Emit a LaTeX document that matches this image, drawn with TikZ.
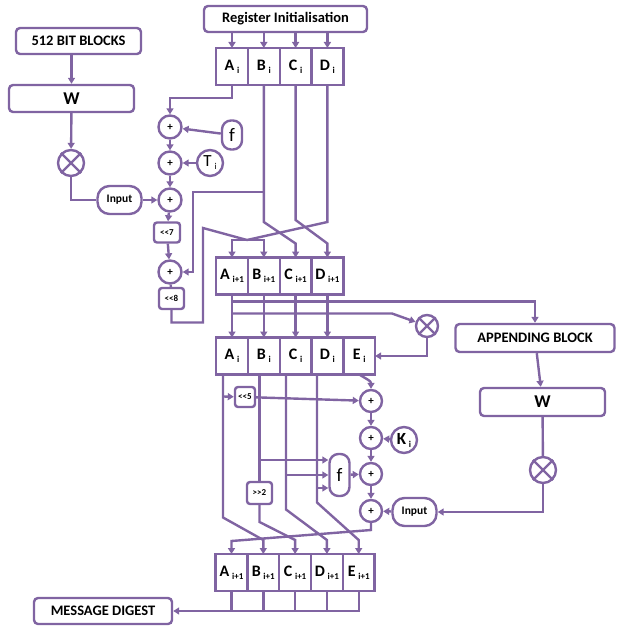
\documentclass[tikz,border=0pt]{standalone}
\usepackage{fontspec}
\setmainfont{Carlito}
\usepackage{tikz}
\usetikzlibrary{positioning,arrows.meta,calc}

\definecolor{vio}{RGB}{128,100,162}
\newcommand{\regl}[2]{#1\,{\fontsize{9}{9}\selectfont\raisebox{-3pt}{#2}}}

\begin{document}
\begin{tikzpicture}[
  x=1pt,y=-1pt,
  box/.style={draw=vio,line width=2.4pt,rounded corners=4pt,fill=white,align=center,
              inner sep=1pt,font=\fontsize{14.5}{14.5}\selectfont\bfseries},
  cell/.style={draw=vio,line width=2.4pt,fill=white,minimum width=31.8pt,minimum height=37pt,
               inner sep=0pt,outer sep=0pt,font=\fontsize{16}{16}\selectfont\bfseries},
  plus/.style={circle,draw=vio,line width=2.4pt,fill=white,minimum size=23pt,inner sep=0pt,
               font=\fontsize{11}{11}\selectfont\bfseries},
  mult/.style={circle,draw=vio,line width=2.4pt,fill=white,minimum size=26pt,inner sep=0pt},
  pill/.style={draw=vio,line width=2.4pt,fill=white,rounded corners=12pt,minimum width=44pt,
               minimum height=28pt,inner sep=0pt,font=\fontsize{11.5}{11.5}\selectfont\bfseries},
  fbox/.style={draw=vio,line width=2.4pt,fill=white,rounded corners=9pt,minimum width=20pt,
               inner sep=0pt,font=\fontsize{19}{19}\selectfont},
  shbox/.style={draw=vio,line width=2.4pt,rounded corners=3pt,fill=white,inner sep=0pt,
                minimum width=25pt,minimum height=20pt,font=\fontsize{9}{9}\selectfont\bfseries},
  arr/.style={-{Triangle[length=6pt,width=7pt]},draw=vio,line width=2.4pt},
  wire/.style={draw=vio,line width=2.4pt}
]
\useasboundingbox (0,0) rectangle (617,626);

% upper round
\node[box,minimum width=163pt,minimum height=26pt] (regi) at (285.5,19) {Register Initialisation};
\node[cell] (A0) at (232,66.5) {\regl{A}{i}};
\node[cell,right=0pt of A0] (B0) {\regl{B}{i}};
\node[cell,right=0pt of B0] (C0) {\regl{C}{i}};
\node[cell,right=0pt of C0] (D0) {\regl{D}{i}};
\foreach \c in {A0,B0,C0,D0}
  \draw[arr] (regi.south -| \c) -- (\c);

\node[box,minimum width=125pt,minimum height=26pt] (bits) at (78.5,41) {512 BIT BLOCKS};
\node[box,minimum width=125pt,minimum height=27pt,font=\fontsize{18}{18}\selectfont\bfseries] (Wl) at (71.5,98.5) {W};
\node[mult] (mull) at (71,163) {};
\draw[wire] (mull.north east) -- (mull.south west) (mull.north west) -- (mull.south east);
\node[pill] (inl) at (119.5,200) {Input};

\node[plus] (p1) at (170,127) {+};
\node[plus] (p2) at (170,163) {+};
\node[plus] (p3) at (170,200) {+};
\node[shbox,minimum width=26pt] (sh7) at (167,232.5) {{<}{<}7};
\node[plus] (p4) at (170,272) {+};
\node[shbox,minimum width=25pt,minimum height=21pt] (sh8) at (171.5,298.5) {{<}{<}8};
\node[fbox,minimum height=29pt] (fa) at (232,135) {f};
\node[mult,font=\fontsize{17}{17}\selectfont] (Ti) at (210,163) {\regl{T}{i}};

\draw[arr] (bits.south -| Wl) -- (Wl);
\draw[arr] (Wl) -- (mull);
\draw[wire] (mull) |- (inl);
\draw[arr] (inl) -- (p3);
\draw[arr] (A0.south) -- ++(0,13) -| (p1);
\draw[arr] (fa) -- (p1);
\draw[arr] (Ti) -- (p2);
\draw[arr] (p1) -- (p2);
\draw[arr] (p2) -- (p3);
\draw[arr] (p3) -- (sh7);
\draw[arr] (sh7) -- (p4);
\draw[wire] (p4) -- (sh8);
\draw[arr] ($(B0.south)+(0,107)$) -- ++(-71,0) |- (p4);

% exchange into A(i+1)..D(i+1)
\node[cell] (A1) at (232,276) {\regl{A}{i+1}};
\node[cell,right=0pt of A1] (B1) {\regl{B}{i+1}};
\node[cell,right=0pt of B1] (C1) {\regl{C}{i+1}};
\node[cell,right=0pt of C1] (D1) {\regl{D}{i+1}};
\coordinate (jtop) at (247,240);
\draw[wire] (sh8) -- ++(0,24) -- ++(31.5,0) -- ++(0,-94.5) -- (jtop);
\draw[wire] (D0.south) -- ++(0,137) -- (jtop);
\draw[arr] (jtop) -| (A1);
\draw[arr] (jtop) -| (B1);
\draw[arr] (B0.south) -- ++(0,137) -- ($(C1.north)+(0,-14)$) -- (C1.north);
\draw[arr] (C0.south) -- ++(0,135) -- ($(D1.north)+(0,-14)$) -- (D1.north);

% second round
\node[cell] (A2) at (232,356) {\regl{A}{i}};
\node[cell,right=0pt of A2] (B2) {\regl{B}{i}};
\node[cell,right=0pt of B2] (C2) {\regl{C}{i}};
\node[cell,right=0pt of C2] (D2) {\regl{D}{i}};
\node[cell,right=0pt of D2] (E2) {\regl{E}{i}};
\foreach \c/\d in {A1/A2,B1/B2,C1/C2,D1/D2}
  \draw[arr] (\c) -- (\d);

\node[mult,minimum size=22pt] (mulb) at (427,326) {};
\draw[wire] (mulb.north east) -- (mulb.south west) (mulb.north west) -- (mulb.south east);
\node[box,minimum width=159pt,minimum height=28pt] (app) at (535,338) {APPENDING BLOCK};
\node[box,minimum width=125pt,minimum height=28pt,font=\fontsize{18}{18}\selectfont\bfseries] (Wr) at (542.5,402) {W};
\node[mult] (mulr) at (543,470) {};
\draw[wire] (mulr.north east) -- (mulr.south west) (mulr.north west) -- (mulr.south east);
\node[pill] (inr) at (414.5,512) {Input};

\draw[arr] ($(A1.south)+(0,7)$) -| (app);
\draw[arr] ($(A1.south)+(0,19)$) -- ++(160,0) -- (mulb);
\draw[arr] (mulb) |- (E2);
\draw[arr] (app) -- (Wr);
\draw[wire] (Wr) -- (mulr);
\draw[arr] (mulr) |- (inr);

\node[plus,minimum size=22pt] (q1) at (371,401) {+};
\node[plus,minimum size=22pt] (q2) at (371,438) {+};
\node[plus,minimum size=22pt] (q3) at (371,474) {+};
\node[plus,minimum size=22pt] (q4) at (371,511) {+};
\node[mult,font=\fontsize{17}{17}\selectfont\bfseries] (Ki) at (404,440) {\regl{K}{i}};
\node[fbox,minimum height=42pt] (fb) at (339.5,475) {f};
\node[shbox,minimum width=20pt] (sh5) at (245,397) {{<}{<}5};
\node[shbox,minimum height=22pt] (sh2) at (259.5,493) {{>}{>}2};

\draw[arr] (E2.south) .. controls +(8,5) and +(0,-8) .. (q1.north);
\draw[arr] (sh5) -- (q1);
\draw[arr] (q1) -- (q2);
\draw[arr] (q2) -- (q3);
\draw[arr] (q3) -- (q4);
\draw[arr] (Ki) -- (q2);
\draw[arr] (fb) -- (q3);
\draw[arr] (inr) -- (q4);

% lines out of A..D into the last register
\node[cell] (A3) at (231.5,572.5) {\regl{A}{i+1}};
\node[cell,right=0pt of A3] (B3) {\regl{B}{i+1}};
\node[cell,right=0pt of B3] (C3) {\regl{C}{i+1}};
\node[cell,right=0pt of C3] (D3) {\regl{D}{i+1}};
\node[cell,right=0pt of D3] (E3) {\regl{E}{i+1}};
\coordinate (al) at ($(A2.south)+(-9,0)$);
\coordinate (cl) at ($(C2.south)+(-9.6,0)$);
\coordinate (dl) at ($(D2.south)+(-10.4,0)$);
\coordinate (fi1) at ($(fb.west)+(0,-15)$);
\coordinate (fi2) at (fb.west);
\coordinate (fi3) at ($(fb.west)+(0,13)$);

\draw[arr] (al) -- ++(0,143) -- ($(B3.north)+(0,-14)$) -- (B3.north);
\draw[arr] ($(al)+(0,22)$) -- (sh5);
\draw[wire] (B2.south -| sh2) -- (sh2);
\draw[arr] (sh2) -- ++(0,29) -- ($(C3.north)+(0,-14)$) -- (C3.north);
\draw[arr] (cl) -- ++(0,135) -- ($(D3.north)+(0,-14)$) -- (D3.north);
\draw[arr] (dl) -- ++(0,128) -- ($(E3.north)+(0,-14)$) -- (E3.north);
\draw[arr] (fi1 -| sh2) -- (fi1);
\draw[arr] (fi2 -| cl) -- (fi2);
\draw[arr] (fi3 -| dl) -- (fi3);
\draw[arr] (q4) -- ++(0,19) -- ($(A3.north)+(0,-13)$) -- (A3.north);

% output
\node[box,minimum width=138pt,minimum height=26pt] (msg) at (103,611) {MESSAGE DIGEST};
\foreach \c in {A3,B3,C3,D3}
  \draw[wire] (\c.south) -- (\c.south |- msg);
\draw[arr] (E3.south) |- (msg);
\end{tikzpicture}
\end{document}
